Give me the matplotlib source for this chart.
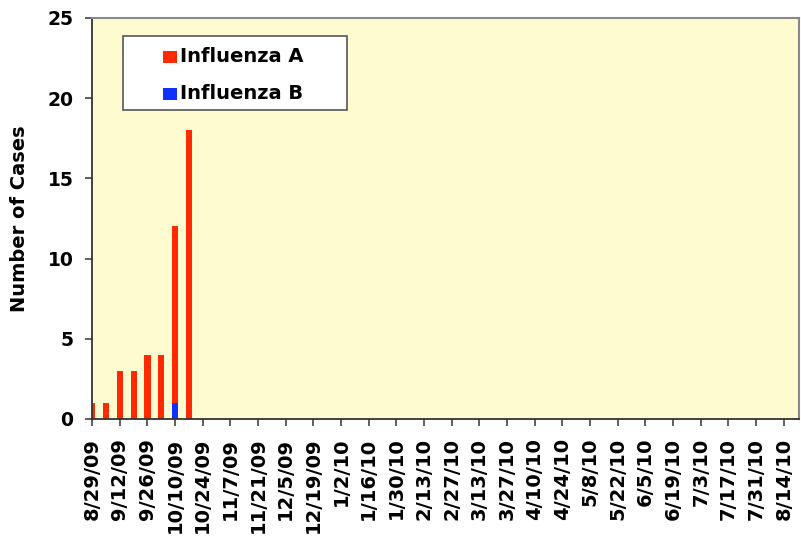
import numpy as np
import pandas as pd
import matplotlib
matplotlib.use("Agg")
import matplotlib.pyplot as plt
from matplotlib.patches import Rectangle

# weekly categories 8/29/09 .. 8/21/10
weeks = pd.date_range("2009-08-29", periods=52, freq="7D")
labels = [f"{d.month}/{d.day}/{d.strftime('%y')}" for d in weeks]

flu_a = [1, 1, 3, 3, 4, 4, 11, 18]
flu_b = [0, 0, 0, 0, 0, 0, 1, 0]
series = ["Influenza A", "Influenza B"]

a = np.zeros(len(weeks))
b = np.zeros(len(weeks))
a[:len(flu_a)] = flu_a
b[:len(flu_b)] = flu_b

red = "#FF2A00"
blue = "#1030FF"

fig = plt.figure(figsize=(8.01, 5.42), dpi=100)
ax = fig.add_axes([0.115, 0.227, 0.8825, 0.74])
ax.set_facecolor("#FFFBD0")

x = np.arange(len(weeks))
ax.bar(x, b, width=0.45, color=blue, zorder=2)
ax.bar(x, a, width=0.45, bottom=b, color=red, zorder=2)

ax.set_xlim(0, 51.1)
ax.set_ylim(0, 25)
ax.set_yticks(range(0, 26, 5))
ax.set_xticks(x[::2])
ax.set_xticklabels(labels[::2], rotation=90, fontsize=14, fontweight="bold")
for t in ax.get_yticklabels():
    t.set_fontsize(13.5)
    t.set_fontweight("bold")
ax.tick_params(axis="both", direction="out", length=5, width=1.2, color="#444444")
ax.tick_params(axis="x", pad=8.5)
ax.tick_params(axis="y", pad=8.5)

for s in ["left", "bottom"]:
    ax.spines[s].set_color("#333333")
    ax.spines[s].set_linewidth(1.3)
for s in ["top", "right"]:
    ax.spines[s].set_color("#888888")
    ax.spines[s].set_linewidth(1.5)

ax.set_ylabel("Number of Cases", fontsize=14, fontweight="bold", labelpad=13)

# legend box drawn by hand (wide right margin like the original)
box = Rectangle((0.0438, 0.771), 0.317, 0.184, transform=ax.transAxes,
                facecolor="white", edgecolor="#555555", linewidth=1.2, zorder=5)
ax.add_patch(box)
for i, (name, col) in enumerate(zip(series, [red, blue])):
    yc = 0.903 - i * 0.0925
    ax.add_patch(Rectangle((0.1004, yc - 0.015), 0.019, 0.030, transform=ax.transAxes,
                           facecolor=col, edgecolor="none", zorder=6))
    ax.text(0.1245, yc, name, transform=ax.transAxes, fontsize=14, fontweight="bold",
            va="center", ha="left", zorder=7)

fig.savefig("out.png", dpi=100)
